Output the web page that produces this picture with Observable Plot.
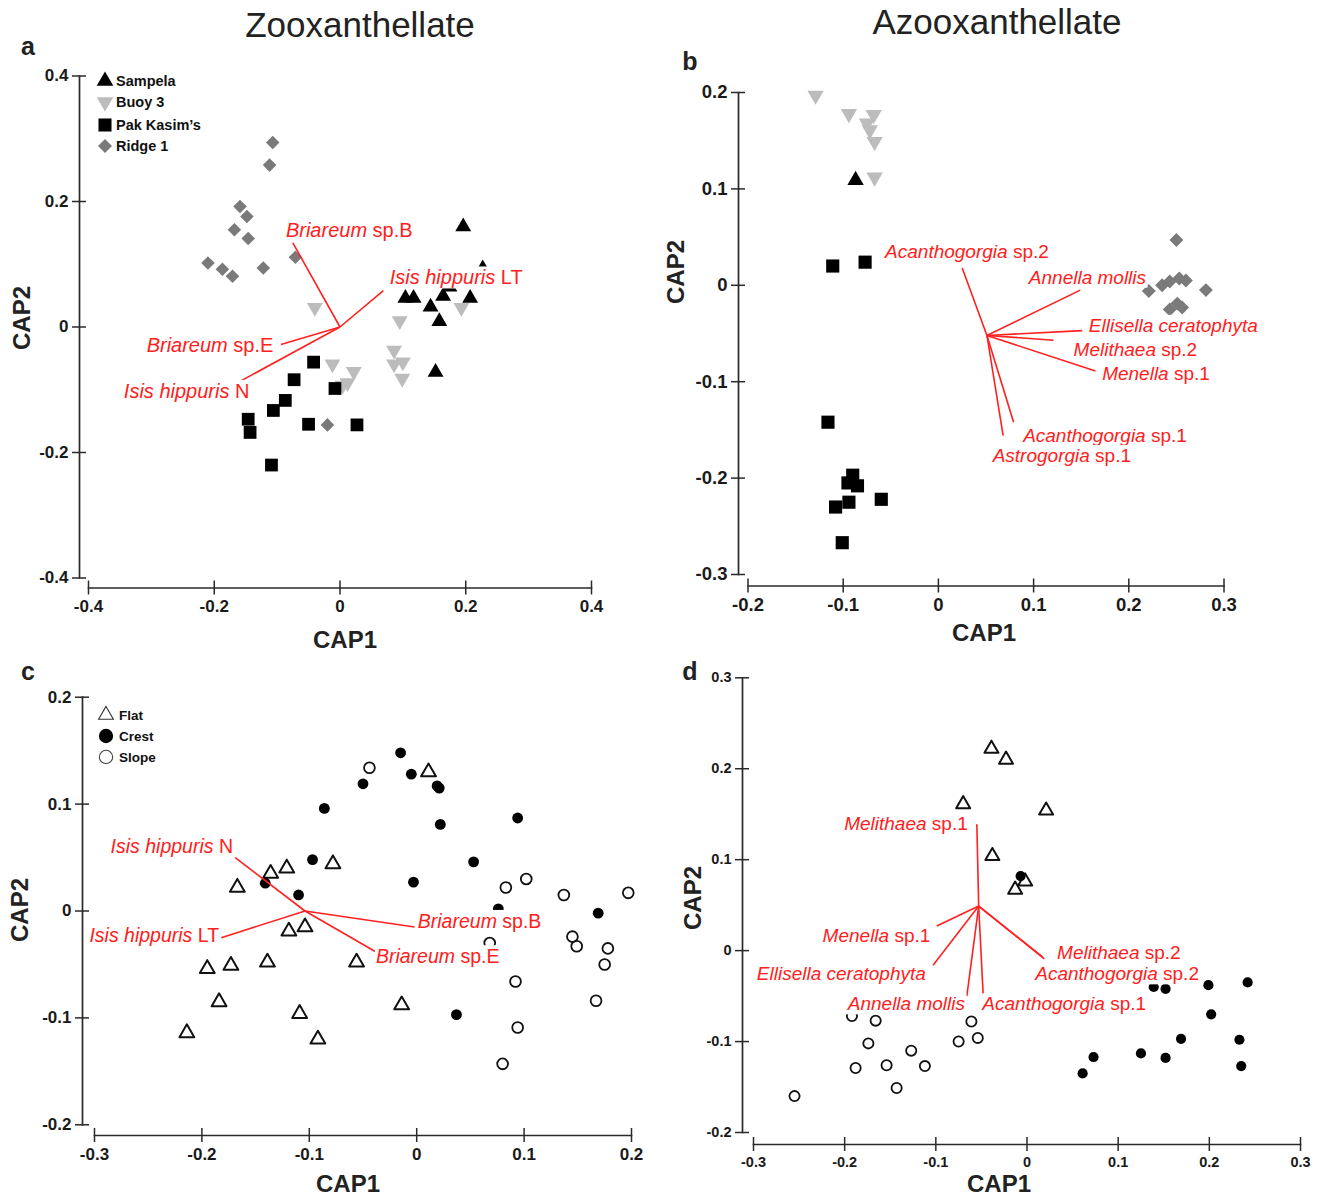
<!DOCTYPE html>
<html>
<head>
<meta charset="utf-8">
<script src="https://cdn.jsdelivr.net/npm/d3@7"></script>
<script src="https://cdn.jsdelivr.net/npm/@observablehq/plot@0.6"></script>
<style>
  html, body { margin: 0; padding: 0; background: #fff; }
  #page { position: relative; width: 1320px; height: 1196px; overflow: hidden;
          font-family: "Liberation Sans", Arial, Helvetica, sans-serif; color: #222; }
  .abs { position: absolute; white-space: nowrap; }
  .title { font-size: 35px; transform: translate(-50%, -50%); }
  .letter { font-size: 25px; font-weight: bold; transform: translate(-50%, -50%); }
  .xlab { font-size: 24px; font-weight: bold; transform: translate(-50%, -50%); }
  .ylab { font-size: 24px; font-weight: bold; transform: translate(-50%, -50%) rotate(-90deg); }
  .legtext { font-weight: bold; transform: translateY(-50%); color: #111; }
  svg g[aria-label$="tick label"] { font-weight: bold; fill: #1a1a1a; }
</style>
</head>
<body>
<div id="page"></div>
<script>
// ---------------- DATA ----------------
// Panel a – Zooxanthellate (sites)
const aSampela = [[0.196,0.160],[0.227,0.093],[0.174,0.064],[0.104,0.046],[0.117,0.046],[0.164,0.049],[0.207,0.046],[0.144,0.032],[0.158,0.009],[0.152,-0.072]];
const aBuoy3 = [[-0.040,0.031],[0.095,0.010],[0.086,-0.037],[0.086,-0.059],[0.100,-0.056],[0.099,-0.082],[0.193,0.031],[-0.012,-0.059],[0.022,-0.071],[0.012,-0.089],[0.004,-0.093]];
const aPakKasim = [[-0.042,-0.056],[-0.073,-0.084],[-0.087,-0.117],[-0.106,-0.133],[-0.146,-0.147],[-0.143,-0.168],[-0.050,-0.155],[-0.008,-0.098],[0.027,-0.156],[-0.109,-0.220]];
const aRidge1 = [[-0.107,0.294],[-0.112,0.258],[-0.159,0.192],[-0.148,0.176],[-0.168,0.155],[-0.146,0.141],[-0.210,0.102],[-0.187,0.092],[-0.171,0.081],[-0.122,0.094],[-0.071,0.111],[-0.020,-0.156]];
const aOrigin = [0, 0];
const aVectorNames = ["Briareum sp.B", "Isis hippuris LT", "Briareum sp.E", "Isis hippuris N"];
const aVectorX = [-0.075, 0.069, -0.094, -0.156];
const aVectorY = [0.134, 0.058, -0.028, -0.085];
const aLabelX = [-0.086, 0.079, -0.106, -0.144];
const aLabelY = [0.153, 0.078, -0.030, -0.103];
const aLabelSide = ["start", "start", "end", "end"];
const aXTicks = [-0.4, -0.2, 0, 0.2, 0.4];
const aYTicks = [-0.4, -0.2, 0, 0.2, 0.4];

// Panel b – Azooxanthellate (sites)
const bSampela = [[-0.087,0.109]];
const bBuoy3 = [[-0.129,0.197],[-0.094,0.178],[-0.068,0.177],[-0.075,0.168],[-0.072,0.161],[-0.067,0.149],[-0.067,0.112]];
const bPakKasim = [[-0.111,0.020],[-0.077,0.024],[-0.116,-0.142],[-0.090,-0.197],[-0.095,-0.205],[-0.085,-0.208],[-0.094,-0.225],[-0.108,-0.230],[-0.060,-0.222],[-0.101,-0.267]];
const bRidge1 = [[0.250,0.047],[0.221,-0.006],[0.235,0.000],[0.243,0.004],[0.253,0.007],[0.260,0.005],[0.281,-0.005],[0.243,-0.025],[0.251,-0.019],[0.256,-0.023]];
const bOrigin = [0.051, -0.052];
const bVectorNames = ["Acanthogorgia sp.2", "Annella mollis", "Ellisella ceratophyta", "Melithaea sp.2", "Menella sp.1", "Acanthogorgia sp.1", "Astrogorgia sp.1"];
const bVectorX = [0.025, 0.149, 0.151, 0.121, 0.165, 0.079, 0.068];
const bVectorY = [0.018, -0.005, -0.047, -0.057, -0.089, -0.142, -0.156];
const bLabelX = [-0.056, 0.095, 0.158, 0.142, 0.172, 0.089, 0.057];
const bLabelY = [0.035, 0.008, -0.042, -0.067, -0.092, -0.156, -0.177];
const bLabelSide = ["start", "start", "start", "start", "start", "start", "start"];
const bXTicks = [-0.2, -0.1, 0, 0.1, 0.2, 0.3];
const bYTicks = [-0.3, -0.2, -0.1, 0, 0.1, 0.2];

// Panel c – Zooxanthellate (reef zones)
const cFlat = [[0.011,0.130],[-0.078,0.044],[-0.121,0.040],[-0.136,0.035],[-0.167,0.022],[-0.119,-0.019],[-0.104,-0.015],[-0.195,-0.054],[-0.173,-0.051],[-0.139,-0.048],[-0.056,-0.048],[-0.184,-0.085],[-0.109,-0.096],[-0.014,-0.088],[-0.214,-0.114],[-0.092,-0.120]];
const cCrest = [[-0.015,0.148],[-0.005,0.128],[-0.050,0.119],[0.019,0.117],[0.021,0.115],[-0.086,0.096],[0.022,0.081],[0.094,0.087],[0.053,0.046],[-0.097,0.048],[-0.141,0.026],[-0.110,0.015],[-0.003,0.027],[0.076,0.002],[0.169,-0.002],[0.037,-0.097]];
const cSlope = [[-0.044,0.134],[0.083,0.022],[0.102,0.030],[0.137,0.015],[0.197,0.017],[0.068,-0.030],[0.145,-0.024],[0.149,-0.033],[0.178,-0.035],[0.175,-0.050],[0.092,-0.066],[0.167,-0.084],[0.094,-0.109],[0.080,-0.143]];
const cOrigin = [-0.104, 0.000];
const cVectorNames = ["Isis hippuris N", "Isis hippuris LT", "Briareum sp.B", "Briareum sp.E"];
const cVectorX = [-0.169, -0.182, -0.002, -0.035];
const cVectorY = [0.050, -0.025, -0.015, -0.040];
const cLabelX = [-0.171, -0.184, 0.001, -0.038];
const cLabelY = [0.060, -0.023, -0.010, -0.043];
const cLabelSide = ["end", "end", "start", "start"];
const cXTicks = [-0.3, -0.2, -0.1, 0, 0.1, 0.2];
const cYTicks = [-0.2, -0.1, 0, 0.1, 0.2];

// Panel d – Azooxanthellate (reef zones)
const dFlat = [[-0.039,0.222],[-0.023,0.210],[-0.070,0.161],[0.021,0.154],[-0.038,0.104],[-0.002,0.076],[-0.013,0.067]];
const dCrest = [[-0.007,0.082],[0.139,-0.040],[0.152,-0.042],[0.199,-0.038],[0.242,-0.035],[0.202,-0.070],[0.169,-0.097],[0.233,-0.098],[0.125,-0.113],[0.152,-0.118],[0.073,-0.117],[0.061,-0.135],[0.235,-0.127]];
const dSlope = [[-0.192,-0.072],[-0.166,-0.077],[-0.061,-0.078],[-0.174,-0.102],[-0.075,-0.100],[-0.054,-0.096],[-0.127,-0.110],[-0.188,-0.129],[-0.154,-0.126],[-0.112,-0.127],[-0.143,-0.151],[-0.255,-0.160]];
const dOrigin = [-0.053, 0.049];
const dVectorNames = ["Melithaea sp.1", "Menella sp.1", "Ellisella ceratophyta", "Annella mollis", "Acanthogorgia sp.1", "Melithaea sp.2", "Acanthogorgia sp.2"];
const dVectorX = [-0.055, -0.099, -0.103, -0.066, -0.048, 0.019, 0.017];
const dVectorY = [0.139, 0.027, -0.016, -0.050, -0.050, -0.009, -0.007];
const dLabelX = [-0.065, -0.106, -0.111, -0.068, -0.049, 0.033, 0.009];
const dLabelY = [0.139, 0.016, -0.026, -0.059, -0.059, -0.003, -0.026];
const dLabelSide = ["end", "end", "end", "end", "start", "start", "start"];
const dXTicks = [-0.3, -0.2, -0.1, 0, 0.1, 0.2, 0.3];
const dYTicks = [-0.2, -0.1, 0, 0.1, 0.2, 0.3];

const siteNames = ["Sampela", "Buoy 3", "Pak Kasim’s", "Ridge 1"];
const zoneNames = ["Flat", "Crest", "Slope"];
const titles = ["Zooxanthellate", "Azooxanthellate"];

// ---------------- STYLE ----------------
const FONT = '"Liberation Sans", Arial, Helvetica, sans-serif';
const RED = "#ff2020";
const AXIS = "#2a2a2a";
const BUOY = "#bcbcbc";
const RIDGE = "#7a7a7a";

const pts = arr => arr.map(([x, y]) => ({x, y}));
const vectors = (o, names, xs, ys) => names.map((name, i) => ({name, x1: o[0], y1: o[1], x2: xs[i], y2: ys[i]}));
const labels = (names, xs, ys, sides) => names.map((name, i) => ({name, x: xs[i], y: ys[i], side: sides[i]}));
const fmt = d => d === 0 ? "0" : String(d);

function vectorMarks(vecs, labs, fontSize) {
  return [
    Plot.link(vecs, {x1: "x1", y1: "y1", x2: "x2", y2: "y2", stroke: RED, strokeWidth: 1.6}),
    Plot.text(labs.filter(d => d.side === "start"), {x: "x", y: "y", text: "name", textAnchor: "start", fill: RED, fontSize}),
    Plot.text(labs.filter(d => d.side === "end"), {x: "x", y: "y", text: "name", textAnchor: "end", fill: RED, fontSize})
  ];
}

function siteMarks(s, bu, pk, ri, k) {
  return [
    Plot.dot(pts(ri), {x: "x", y: "y", symbol: "diamond2", r: 6.1 * k, fill: RIDGE}),
    Plot.dot(pts(bu), {x: "x", y: "y", symbol: "triangle", rotate: 180, r: 5.9 * k, fill: BUOY}),
    Plot.dot(pts(pk), {x: "x", y: "y", symbol: "square", r: 7.2 * k, fill: "#000"}),
    Plot.dot(pts(s), {x: "x", y: "y", symbol: "triangle", r: 5.9 * k, fill: "#000"})
  ];
}

function zoneMarks(fl, cr, sl, r) {
  return [
    Plot.dot(pts(sl), {x: "x", y: "y", symbol: "circle", r, fill: "none", stroke: "#111", strokeWidth: 1.8}),
    Plot.dot(pts(fl), {x: "x", y: "y", symbol: "triangle", r: r * 1.02, fill: "none", stroke: "#111", strokeWidth: 2, strokeLinejoin: "round"}),
    Plot.dot(pts(cr), {x: "x", y: "y", symbol: "circle", r, fill: "#000"})
  ];
}

function panel(cfg) {
  const {xDomain, yDomain, xTicks, yTicks, width, height, ml, mr, mt, mb, insetL, insetB, tickFont, marks} = cfg;
  return Plot.plot({
    width, height, marginLeft: ml, marginRight: mr, marginTop: mt, marginBottom: mb,
    x: {domain: xDomain, insetLeft: insetL},
    y: {domain: yDomain, insetBottom: insetB},
    style: {fontFamily: FONT, color: AXIS, background: "transparent", overflow: "visible"},
    marks: [
      Plot.frame({anchor: "left", insetBottom: insetB, stroke: AXIS, strokeWidth: 1.7}),
      Plot.frame({anchor: "bottom", insetLeft: insetL, stroke: AXIS, strokeWidth: 1.7}),
      Plot.axisX({ticks: xTicks, tickFormat: fmt, tickSize: 14, dy: -7, tickPadding: 5, fontSize: tickFont, fontWeight: "bold", strokeWidth: 1.5, label: null}),
      Plot.axisY({ticks: yTicks, tickFormat: fmt, tickSize: 14, dx: 7, tickPadding: 4, fontSize: tickFont, fontWeight: "bold", strokeWidth: 1.5, label: null}),
      ...marks
    ]
  });
}

// -------- build page --------
const page = document.getElementById("page");
function place(node, left, top) {
  const wrap = document.createElement("div");
  wrap.className = "abs";
  wrap.style.left = left + "px"; wrap.style.top = top + "px";
  wrap.appendChild(node);
  page.appendChild(wrap);
  return node;
}
function addText(cls, text, left, top, extra) {
  const d = document.createElement("div");
  d.className = "abs " + cls;
  d.textContent = text;
  d.style.left = left + "px"; d.style.top = top + "px";
  if (extra) Object.assign(d.style, extra);
  page.appendChild(d);
}

const plots = [];
plots.push(place(panel({
  xDomain: [-0.4, 0.4], yDomain: [-0.4, 0.4], xTicks: aXTicks, yTicks: aYTicks,
  width: 620, height: 600, ml: 79, mr: 29, mt: 25.5, mb: 62.5, insetL: 9, insetB: 10, tickFont: 17,
  marks: [...siteMarks(aSampela, aBuoy3, aPakKasim, aRidge1, 1),
          ...vectorMarks(vectors(aOrigin, aVectorNames, aVectorX, aVectorY), labels(aVectorNames, aLabelX, aLabelY, aLabelSide), 20)]
}), 0, 50));

plots.push(place(panel({
  xDomain: [-0.2, 0.3], yDomain: [-0.3, 0.2], xTicks: bXTicks, yTicks: bYTicks,
  width: 660, height: 590, ml: 78, mr: 96.5, mt: 32, mb: 64.5, insetL: 9.5, insetB: 11.5, tickFont: 18.5,
  marks: [...siteMarks(bSampela, bBuoy3, bPakKasim, bRidge1, 1.03),
          ...vectorMarks(vectors(bOrigin, bVectorNames, bVectorX, bVectorY), labels(bVectorNames, bLabelX, bLabelY, bLabelSide), 19)]
}), 660, 60));

plots.push(place(panel({
  xDomain: [-0.3, 0.2], yDomain: [-0.2, 0.2], xTicks: cXTicks, yTicks: cYTicks,
  width: 660, height: 516, ml: 82, mr: 29, mt: 16.7, mb: 61, insetL: 12, insetB: 10.7, tickFont: 17,
  marks: [...zoneMarks(cFlat, cCrest, cSlope, 5.4),
          ...vectorMarks(vectors(cOrigin, cVectorNames, cVectorX, cVectorY), labels(cVectorNames, cLabelX, cLabelY, cLabelSide), 19.5)]
}), 0, 680));

plots.push(place(panel({
  xDomain: [-0.3, 0.3], yDomain: [-0.2, 0.3], xTicks: dXTicks, yTicks: dYTicks,
  width: 660, height: 536, ml: 82, mr: 20, mt: 17.3, mb: 52, insetL: 11, insetB: 12, tickFont: 14.5,
  marks: [...zoneMarks(dFlat, dCrest, dSlope, 5.1),
          ...vectorMarks(vectors(dOrigin, dVectorNames, dVectorX, dVectorY), labels(dVectorNames, dLabelX, dLabelY, dLabelSide), 19)]
}), 660, 660));

// italic species names (qualifier in roman) and white label boxes
const NS = "http://www.w3.org/2000/svg";
plots.forEach(svg => {
  svg.querySelectorAll('g[aria-label$="tick label"] text').forEach(t => t.setAttribute("font-weight", "bold"));
  svg.querySelectorAll('g[aria-label="text"] text').forEach(t => {
    const full = t.textContent;
    const words = full.split(" ");
    const last = words[words.length - 1];
    let it = full, rest = "";
    if (/^(sp\.\S*|N|LT)$/.test(last)) { it = words.slice(0, -1).join(" "); rest = " " + last; }
    t.textContent = "";
    const a = document.createElementNS(NS, "tspan");
    a.setAttribute("font-style", "italic"); a.textContent = it; t.appendChild(a);
    if (rest) {
      const b = document.createElementNS(NS, "tspan");
      b.setAttribute("font-style", "normal"); b.textContent = rest; t.appendChild(b);
    }
    const bb = t.getBBox();
    const r = document.createElementNS(NS, "rect");
    r.setAttribute("x", bb.x - 1); r.setAttribute("y", bb.y);
    r.setAttribute("width", bb.width + 2); r.setAttribute("height", bb.height);
    r.setAttribute("fill", "#fff"); r.setAttribute("stroke", "none");
    const tr = t.getAttribute("transform");
    if (tr) r.setAttribute("transform", tr);
    t.parentNode.insertBefore(r, t);
  });
});

// titles, panel letters, axis titles
addText("title", titles[0], 360, 25);
addText("title", titles[1], 997, 22);
addText("letter", "a", 28, 46);
addText("letter", "b", 690, 61);
addText("letter", "c", 28, 671);
addText("letter", "d", 690, 671);
addText("xlab", "CAP1", 345, 640);
addText("xlab", "CAP1", 984, 633);
addText("xlab", "CAP1", 348, 1184);
addText("xlab", "CAP1", 999, 1184);
addText("ylab", "CAP2", 22, 318);
addText("ylab", "CAP2", 676, 272);
addText("ylab", "CAP2", 20, 910);
addText("ylab", "CAP2", 693, 898);

// legends
function legendItem(pathD, fill, stroke, sw, cx, cy, label, tx, fs) {
  const svg = document.createElementNS(NS, "svg");
  svg.setAttribute("width", 24); svg.setAttribute("height", 24);
  const p = document.createElementNS(NS, "path");
  p.setAttribute("d", pathD); p.setAttribute("transform", "translate(12,12)");
  p.setAttribute("fill", fill); p.setAttribute("stroke", stroke); p.setAttribute("stroke-width", sw);
  svg.appendChild(p);
  place(svg, cx - 12, cy - 12);
  addText("legtext", label, tx, cy, {fontSize: fs + "px"});
}
const sym = (type, size) => d3.symbol().type(type).size(size)();
const down = d3.symbol().type(d3.symbolTriangle).size(120)().replace(/(-?\d*\.?\d+),(-?\d*\.?\d+)/g, (m, x, y) => `${-x},${-y}`);
const legA = [
  [sym(d3.symbolTriangle, 120), "#000", "none", 0],
  [down, BUOY, "none", 0],
  [sym(d3.symbolSquare, 170), "#000", "none", 0],
  [sym(d3.symbolDiamond2, 125), RIDGE, "none", 0]
];
const legAY = [80.5, 102, 124.5, 146];
siteNames.forEach((n, i) => legendItem(legA[i][0], legA[i][1], legA[i][2], legA[i][3], 105, legAY[i], n, 116, 14.5));
const legC = [
  [sym(d3.symbolTriangle, 95), "none", "#333", 1.1],
  [sym(d3.symbolCircle, 160), "#000", "none", 0],
  [sym(d3.symbolCircle, 140), "none", "#444", 1.1]
];
const legCY = [715, 736, 757];
zoneNames.forEach((n, i) => legendItem(legC[i][0], legC[i][1], legC[i][2], legC[i][3], 106, legCY[i], n, 119, 13.5));
</script>
</body>
</html>
